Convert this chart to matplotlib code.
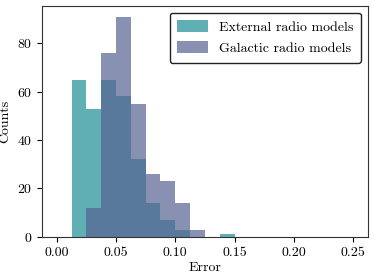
import matplotlib
matplotlib.use("Agg")
import matplotlib.pyplot as plt
import numpy as np

plt.rcParams['font.family'] = 'serif'
plt.rcParams['font.serif'] = ['cmr10', 'DejaVu Serif']
plt.rcParams['mathtext.fontset'] = 'cm'
plt.rcParams['axes.formatter.use_mathtext'] = True
plt.rcParams['font.size'] = 10

# histogram bins (error) and counts
bin_edges = np.linspace(0, 0.25, 21)
external_counts = [0, 65, 53, 65, 58, 32, 14, 7, 3, 0, 0, 1, 0, 0, 0, 0, 0, 0, 0, 0]
galactic_counts = [0, 0, 12, 76, 91, 55, 26, 23, 14, 3, 0, 0, 0, 0, 0, 0, 0, 0, 0, 0]
labels = ['External radio models', 'Galactic radio models']
colors = ['#1c8e94', '#566291']

centers = (bin_edges[:-1] + bin_edges[1:]) / 2

fig, ax = plt.subplots(figsize=(3.74, 2.79), dpi=100)
fig.subplots_adjust(left=0.112, right=0.984, bottom=0.151, top=0.980)

ax.hist(centers, bins=bin_edges, weights=external_counts, color=colors[0],
        alpha=0.7, label=labels[0])
ax.hist(centers, bins=bin_edges, weights=galactic_counts, color=colors[1],
        alpha=0.7, label=labels[1])

ax.set_xlabel('Error', labelpad=2)
ax.set_ylabel('Counts')
ax.set_xticks([0.0, 0.05, 0.1, 0.15, 0.2, 0.25])
ax.set_xticklabels(['0.00', '0.05', '0.10', '0.15', '0.20', '0.25'])
ax.set_yticks([0, 20, 40, 60, 80])
for s in ax.spines.values():
    s.set_color('#333333')

leg = ax.legend(loc='upper right', fancybox=True, framealpha=1,
                handlelength=2.2, handleheight=0.9, borderpad=0.55,
                labelspacing=0.55)
leg.get_frame().set_edgecolor('#222222')

fig.savefig('out.png', dpi=100)
